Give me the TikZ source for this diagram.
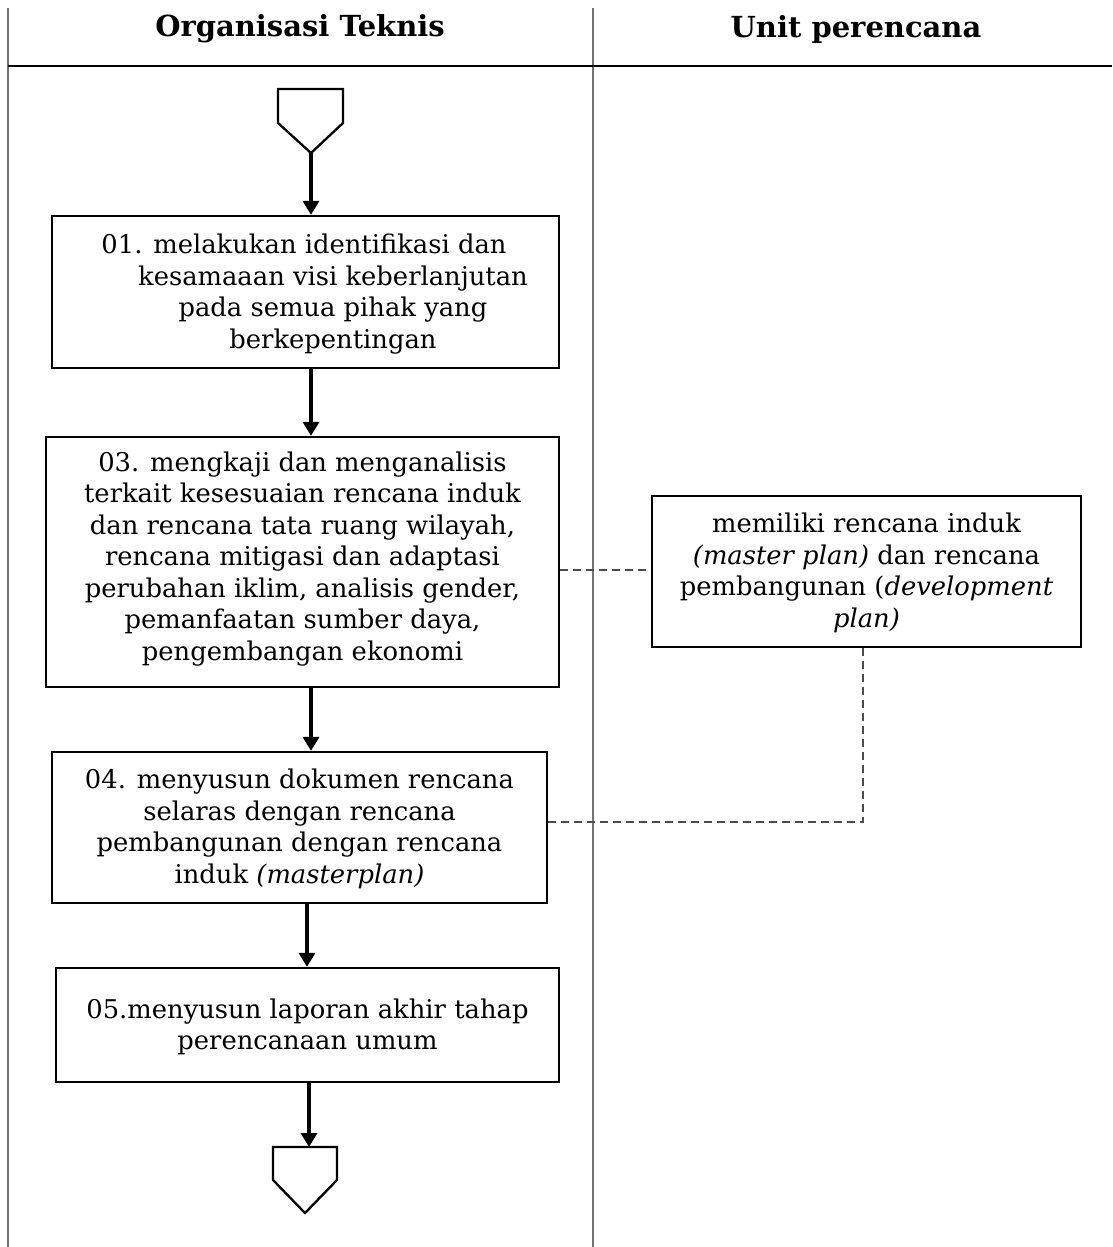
\documentclass[tikz,border=0pt]{standalone}
\usepackage{fontspec}
\setmainfont{DejaVu Serif}
\usetikzlibrary{arrows.meta}
\begin{document}
\begin{tikzpicture}[x=1pt,y=-1pt,
  stepbox/.style={draw,line width=2.3pt,rectangle,inner sep=0pt},
  steptext/.style={align=center,inner sep=0pt,font=\fontsize{25.8}{31.5}\selectfont},
  flow/.style={line width=3.4pt,-{Triangle[length=14pt,width=16pt]}},
  link/.style={line width=1.3pt,dash pattern=on 8pt off 5pt,black!70},
  lane/.style={line width=1.3pt,black!55},
  head/.style={font=\fontsize{29}{32}\selectfont\bfseries},
  offpage/.style={line width=2.3pt}]
% page frame
\useasboundingbox (0,0) rectangle (1112,1247);
% swimlane lines
\draw[lane] (8,8) -- (8,1247);
\draw[lane] (593,8) -- (593,1247);
\draw[line width=1.8pt] (8,66) -- (1112,66);
\node[head] (h1) at (300,29) {Organisasi Teknis};
\node[head] (h2) at (856,29) {Unit perencana};
% off-page connector (start)
\draw[offpage] (278,89) -- (343,89) -- (343,123) -- (311,153) -- (278,123) -- cycle;
\coordinate (start) at (311,153);
% process boxes
\node[stepbox,minimum width=507pt,minimum height=152pt] (b1) at (305.5,292) {};
\node[steptext] (t1) at (333,294) {\hspace*{-58pt}01. melakukan identifikasi dan\\kesamaaan visi keberlanjutan\\pada semua pihak yang\\berkepentingan};
\node[stepbox,minimum width=513pt,minimum height=250pt] (b3) at (302.5,562) {};
\node[steptext] (t3) at (302.5,559) {03. mengkaji dan menganalisis\\terkait kesesuaian rencana induk\\dan rencana tata ruang wilayah,\\rencana mitigasi dan adaptasi\\perubahan iklim, analisis gender,\\pemanfaatan sumber daya,\\pengembangan ekonomi};
\node[stepbox,minimum width=495pt,minimum height=151pt] (b4) at (299.5,827.5) {};
\node[steptext] (t4) at (299.5,829) {04. menyusun dokumen rencana\\selaras dengan rencana\\pembangunan dengan rencana\\induk \textit{(masterplan)}};
\node[stepbox,minimum width=503pt,minimum height=114pt] (b5) at (307.5,1025) {};
\node[steptext] (t5) at (307.5,1027) {05.menyusun laporan akhir tahap\\perencanaan umum};
\node[stepbox,minimum width=429pt,minimum height=151pt] (r1) at (866.5,571.5) {};
\node[steptext] (tr) at (866.5,573) {memiliki rencana induk\\\textit{(master plan)} dan rencana\\pembangunan (\textit{development}\\\textit{plan)}};
% off-page connector (end)
\draw[offpage] (273,1147) -- (337,1147) -- (337,1180) -- (305,1213) -- (273,1180) -- cycle;
\coordinate (end) at (309,1147);
% flow arrows
\draw[flow] (start) -- (b1.north -| start);
\draw[flow] (b1.south -| 311,0) -- (b3.north -| 311,0);
\draw[flow] (b3.south -| 311,0) -- (b4.north -| 311,0);
\draw[flow] (b4.south -| 307,0) -- (b5.north -| 307,0);
\draw[flow] (b5.south -| end) -- (end);
% relations to the planning unit
\draw[link] (b3.east |- 0,570) -- (r1.west |- 0,570);
\coordinate (bend) at (863,822);
\draw[link] (r1.south -| bend) -- (bend) -- (b4.east |- bend);
\end{tikzpicture}
\end{document}
